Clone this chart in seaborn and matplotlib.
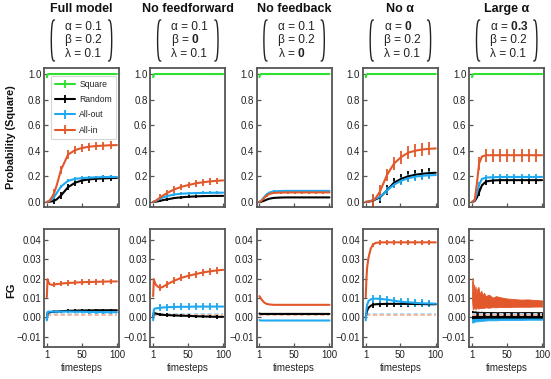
import numpy as np
import matplotlib
matplotlib.use('Agg')
import matplotlib.pyplot as plt
from matplotlib.lines import Line2D
import seaborn as sns

sns.set_theme(style='ticks')
plt.rcParams['font.family'] = ['Liberation Sans', 'DejaVu Sans']
plt.rcParams['mathtext.fontset'] = 'custom'
plt.rcParams['mathtext.rm'] = 'Liberation Sans'
plt.rcParams['mathtext.bf'] = 'Liberation Sans:bold'

# --- data ---
timesteps = [1, 2, 3, 5, 8, 11, 15, 21, 31, 41, 51, 61, 71, 81, 91, 100]
bar_steps = [11, 21, 31, 41, 51, 61, 71, 81, 91]
series_names = ['Square', 'Random', 'All-out', 'All-in']
panel_titles = ['Full model', 'No feedforward', 'No feedback', 'No α', 'Large α']
param_lines = [
    ['α = 0.1', 'β = 0.2', 'λ = 0.1'],
    ['α = 0.1', r'β = $\mathbf{0}$', 'λ = 0.1'],
    ['α = 0.1', 'β = 0.2', r'λ = $\mathbf{0}$'],
    [r'α = $\mathbf{0}$', 'β = 0.2', 'λ = 0.1'],
    [r'α = $\mathbf{0.3}$', 'β = 0.2', 'λ = 0.1'],
]

square_prob = [0.975, 0.995, 1, 1, 1, 1, 1, 1, 1, 1, 1, 1, 1, 1, 1, 1]

prob_full = {
    'Random': [0, 0, 0, 0.002, 0.004, 0.008, 0.02, 0.05, 0.115, 0.15, 0.168, 0.176, 0.181, 0.184, 0.186, 0.187],
    'All-out': [0, 0, 0.002, 0.008, 0.02, 0.035, 0.07, 0.12, 0.165, 0.18, 0.186, 0.19, 0.192, 0.194, 0.195, 0.195],
    'All-in': [0, 0, 0.003, 0.012, 0.035, 0.065, 0.13, 0.25, 0.37, 0.405, 0.422, 0.432, 0.437, 0.44, 0.443, 0.444],
}
prob_noff = {
    'Random': [0, 0, 0, 0.002, 0.005, 0.009, 0.014, 0.02, 0.03, 0.036, 0.04, 0.043, 0.045, 0.046, 0.047, 0.047],
    'All-out': [0, 0.001, 0.003, 0.008, 0.016, 0.025, 0.035, 0.046, 0.058, 0.064, 0.067, 0.069, 0.07, 0.071, 0.072, 0.072],
    'All-in': [0, 0.001, 0.004, 0.01, 0.022, 0.035, 0.05, 0.07, 0.098, 0.118, 0.132, 0.145, 0.153, 0.16, 0.165, 0.168],
}
prob_nofb = {
    'Random': [0, 0, 0.001, 0.004, 0.01, 0.017, 0.025, 0.031, 0.034, 0.035, 0.035, 0.035, 0.035, 0.035, 0.035, 0.035],
    'All-out': [0, 0.003, 0.008, 0.02, 0.04, 0.058, 0.073, 0.082, 0.085, 0.086, 0.086, 0.086, 0.086, 0.086, 0.086, 0.086],
    'All-in': [0, 0.002, 0.006, 0.015, 0.032, 0.048, 0.062, 0.07, 0.073, 0.074, 0.074, 0.074, 0.074, 0.074, 0.074, 0.074],
}
prob_noalpha = {
    'Random': [0, 0, 0, 0.002, 0.005, 0.01, 0.02, 0.035, 0.09, 0.15, 0.18, 0.2, 0.212, 0.22, 0.225, 0.228],
    'All-out': [0, 0, 0.001, 0.003, 0.008, 0.014, 0.025, 0.04, 0.09, 0.135, 0.165, 0.185, 0.197, 0.204, 0.208, 0.21],
    'All-in': [0, 0, 0.001, 0.003, 0.007, 0.012, 0.03, 0.08, 0.21, 0.3, 0.35, 0.385, 0.4, 0.41, 0.415, 0.418],
}
prob_largealpha = {
    'Random': [0, 0.001, 0.003, 0.008, 0.035, 0.075, 0.13, 0.16, 0.168, 0.17, 0.17, 0.17, 0.17, 0.17, 0.17, 0.17],
    'All-out': [0, 0.002, 0.005, 0.015, 0.07, 0.135, 0.18, 0.19, 0.193, 0.195, 0.195, 0.195, 0.195, 0.195, 0.195, 0.195],
    'All-in': [0, 0.003, 0.008, 0.02, 0.15, 0.3, 0.355, 0.365, 0.365, 0.365, 0.365, 0.365, 0.365, 0.365, 0.365, 0.365],
}
prob_err = [
    {'Random': 0.025, 'All-out': 0.013, 'All-in': 0.032},
    {'Random': 0.01, 'All-out': 0.012, 'All-in': 0.025},
    {'Random': 0.006, 'All-out': 0.008, 'All-in': 0.012},
    {'Random': 0.04, 'All-out': 0.03, 'All-in': 0.05},
    {'Random': 0.03, 'All-out': 0.022, 'All-in': 0.05},
]

fg_full = {
    'Random': [-0.001, 0.0022, 0.0025, 0.0027, 0.0028, 0.003, 0.003, 0.0032, 0.0034, 0.0035, 0.0036, 0.0036, 0.0037, 0.0037, 0.0037, 0.0037],
    'All-out': [-0.0015, 0.0028, 0.003, 0.003, 0.003, 0.003, 0.003, 0.003, 0.003, 0.0029, 0.0029, 0.0028, 0.0028, 0.0027, 0.0027, 0.0027],
    'All-in': [0.0105, 0.0197, 0.0185, 0.0172, 0.0168, 0.017, 0.0172, 0.0175, 0.0178, 0.018, 0.0182, 0.0183, 0.0184, 0.0185, 0.0186, 0.0186],
}
fg_noff = {
    'Random': [0.0, 0.0025, 0.0022, 0.002, 0.0017, 0.0015, 0.0013, 0.0012, 0.001, 0.0009, 0.0008, 0.0006, 0.0005, 0.0004, 0.0003, 0.0003],
    'All-out': [-0.0015, 0.004, 0.0045, 0.0047, 0.0048, 0.005, 0.0051, 0.0053, 0.0054, 0.0055, 0.0055, 0.0056, 0.0056, 0.0056, 0.0056, 0.0056],
    'All-in': [0.011, 0.0198, 0.0185, 0.0168, 0.0158, 0.0153, 0.0158, 0.0172, 0.019, 0.0205, 0.0215, 0.0224, 0.0232, 0.0238, 0.0243, 0.0246],
}
fg_nofb = {
    'Random': [0.002, 0.0019, 0.0018, 0.0018, 0.0018, 0.0018, 0.0018, 0.0018, 0.0018, 0.0018, 0.0018, 0.0018, 0.0018, 0.0018, 0.0018, 0.0018],
    'All-out': [-0.0014, -0.0015, -0.0016, -0.0016, -0.0016, -0.0016, -0.0016, -0.0016, -0.0016, -0.0016, -0.0016, -0.0016, -0.0016, -0.0016, -0.0016, -0.0016],
    'All-in': [0.011, 0.0105, 0.0098, 0.0088, 0.0076, 0.007, 0.0067, 0.0065, 0.0065, 0.0065, 0.0065, 0.0065, 0.0065, 0.0065, 0.0065, 0.0065],
}
fg_noalpha = {
    'Random': [0.0, 0.002, 0.0035, 0.005, 0.006, 0.0065, 0.0068, 0.0069, 0.007, 0.007, 0.007, 0.007, 0.0069, 0.0069, 0.0068, 0.0068],
    'All-out': [-0.0015, 0.004, 0.0065, 0.0085, 0.0093, 0.0096, 0.0097, 0.0096, 0.0092, 0.0086, 0.0081, 0.0078, 0.0075, 0.0073, 0.0072, 0.0071],
    'All-in': [0.0105, 0.02, 0.026, 0.031, 0.0355, 0.0375, 0.0385, 0.0388, 0.0388, 0.0388, 0.0388, 0.0388, 0.0388, 0.0388, 0.0388, 0.0388],
}
fg_err = [
    {'Random': 0.0007, 'All-out': 0.0008, 'All-in': 0.0015},
    {'Random': 0.0009, 'All-out': 0.0018, 'All-in': 0.0018},
    {'Random': 0.0002, 'All-out': 0.0002, 'All-in': 0.0002},
    {'Random': 0.0015, 'All-out': 0.002, 'All-in': 0.0012},
]

# Large alpha FG is noisy: drawn as low/high envelopes
band_steps = [1, 2, 3, 4, 5, 6, 7, 8, 10, 12, 14, 16, 18, 20, 25, 30, 35, 40, 50, 60, 70, 80, 90, 100]
band_allin_hi = [0.018, 0.0205, 0.013, 0.017, 0.012, 0.016, 0.0115, 0.0145, 0.0158, 0.012, 0.0138, 0.0115, 0.0128, 0.011, 0.0118, 0.0102, 0.011, 0.0105, 0.0098, 0.0095, 0.0092, 0.0093, 0.009, 0.0088]
band_allin_lo = [0.009, 0.004, 0.006, 0.0045, 0.006, 0.004, 0.0055, 0.005, 0.0045, 0.005, 0.0048, 0.005, 0.0049, 0.0052, 0.005, 0.0053, 0.0052, 0.0054, 0.0053, 0.0055, 0.0055, 0.0055, 0.0056, 0.0056]
band_random_hi = [0.0035, 0.003, 0.0033, 0.0029, 0.0032, 0.003, 0.0031, 0.0029, 0.003, 0.0028, 0.003, 0.0028, 0.0029, 0.0028, 0.0028, 0.0028, 0.0027, 0.0027, 0.0028, 0.0027, 0.0027, 0.0028, 0.0027, 0.0027]
band_random_lo = [-0.0005, -0.0003, -0.0004, -0.0002, -0.0003, -0.0002, -0.0003, -0.0002, -0.0002, -0.0002, -0.0002, -0.0001, -0.0002, -0.0001, -0.0001, -0.0001, -0.0001, -0.0001, -0.0001, -0.0001, -0.0001, -0.0001, -0.0001, -0.0001]
band_allout_hi = [0.003, 0.0025, 0.0022, 0.0021, 0.002, 0.0019, 0.0018, 0.0018, 0.0016, 0.0015, 0.0015, 0.0014, 0.0014, 0.0013, 0.0012, 0.0012, 0.0012, 0.0011, 0.0011, 0.001, 0.001, 0.001, 0.001, 0.001]
band_allout_lo = [-0.0025, -0.0028, -0.0024, -0.0023, -0.0022, -0.0021, -0.002, -0.002, -0.002, -0.0019, -0.0018, -0.0017, -0.0017, -0.0016, -0.0015, -0.0015, -0.0015, -0.0014, -0.0013, -0.0013, -0.0013, -0.0012, -0.0012, -0.0012]

# dashed reference levels in the FG panels
ref_allout = 0.002
ref_allin = 0.001

colors = {'Square': '#2fe02f', 'Random': '#000000', 'All-out': '#1fa8f0', 'All-in': '#e2582a'}
ref_colors = {'All-out': '#a9d9f3', 'All-in': '#f4b9a3'}

prob_panels = [prob_full, prob_noff, prob_nofb, prob_noalpha, prob_largealpha]
fg_panels = [fg_full, fg_noff, fg_nofb, fg_noalpha]

W, H = 551, 379
fig = plt.figure(figsize=(W / 100, H / 100), dpi=100)
fig.patch.set_facecolor('white')

col_left = [44 + 106.3 * i for i in range(5)]
ax_w = 75
mask = [t in bar_steps for t in timesteps]


def style_axis(ax):
    for sp in ax.spines.values():
        sp.set_visible(True)
        sp.set_color('#555555')
        sp.set_linewidth(1.3)
    ax.tick_params(direction='in', length=3, width=0.9, color='#555555',
                   labelsize=7, labelcolor='#222222', pad=2)
    ax.set_xlim(-3, 103)
    ax.set_xticks([1, 50, 100])
    ax.set_facecolor('white')
    ax.grid(False)


def draw_paren(x_px, y_top, y_bot, side):
    theta = np.linspace(-np.pi / 2, np.pi / 2, 40)
    yc = (y_top + y_bot) / 2
    h = (y_bot - y_top) / 2
    bulge = 3.2 * side
    xs = x_px - bulge * np.cos(theta) ** 0.6
    ys = yc + h * np.sin(theta)
    fig.add_artist(Line2D(xs / W, 1 - ys / H, transform=fig.transFigure,
                          color='#222222', lw=1.0))


for i in range(5):
    left = col_left[i]
    xc = left + ax_w / 2
    # titles and parameter boxes
    fig.text(xc / W, 1 - 9 / H, panel_titles[i], ha='center', va='center',
             fontsize=9, fontweight='bold', color='#111111')
    for j, line in enumerate(param_lines[i]):
        fig.text((xc - 16.5) / W, 1 - (27 + 13.3 * j) / H, line, ha='left', va='center',
                 fontsize=8.6, color='#222222')
    draw_paren(xc - 27, 20, 61, 1)
    draw_paren(xc + 27, 20, 61, -1)

    # top row: probability of square
    ax = fig.add_axes([left / W, 1 - 207 / H, ax_w / W, 139 / H])
    style_axis(ax)
    ax.errorbar(timesteps, square_prob, yerr=0, errorevery=mask, color=colors['Square'],
                lw=1.5, elinewidth=1.3, label='Square')
    data = prob_panels[i]
    for name in series_names[1:]:
        ax.errorbar(timesteps, data[name], yerr=prob_err[i][name], errorevery=mask,
                    color=colors[name], lw=1.5, elinewidth=1.3, label=name)
    ax.set_ylim(-0.04, 1.047)
    ax.set_yticks([0, 0.2, 0.4, 0.6, 0.8, 1.0])
    ax.set_yticklabels(['0.0', '0.2', '0.4', '0.6', '0.8', '1.0'])
    ax.set_xticklabels([])
    if i == 0:
        leg = ax.legend(loc='upper left', bbox_to_anchor=(0.09, 0.945), fontsize=6.2,
                        handlelength=2.3, handletextpad=0.5, borderpad=0.5,
                        labelspacing=0.72, frameon=True, borderaxespad=0)
        leg.get_frame().set_edgecolor('#cccccc')
        leg.get_frame().set_linewidth(0.8)

    # bottom row: FG
    ax2 = fig.add_axes([left / W, 1 - 347 / H, ax_w / W, 118 / H])
    style_axis(ax2)
    for name, lvl in [('All-out', ref_allout), ('All-in', ref_allin)]:
        sns.lineplot(x=[1, 100], y=[lvl, lvl], ax=ax2, color=ref_colors[name],
                     lw=1.4, linestyle=(0, (2.2, 1.3)))
    if i < 4:
        data = fg_panels[i]
        for name in series_names[1:]:
            ax2.errorbar(timesteps, data[name], yerr=fg_err[i][name], errorevery=mask,
                         color=colors[name], lw=1.5, elinewidth=1.3)
    else:
        for name, lo, hi in [('All-out', band_allout_lo, band_allout_hi),
                             ('Random', band_random_lo, band_random_hi),
                             ('All-in', band_allin_lo, band_allin_hi)]:
            ax2.fill_between(band_steps, lo, hi, color=colors[name], lw=0.6,
                             edgecolor=colors[name])
    ax2.set_ylim(-0.0153, 0.0457)
    ax2.set_yticks([-0.01, 0.0, 0.01, 0.02, 0.03, 0.04])
    ax2.set_yticklabels(['\u22120.01', '0.00', '0.01', '0.02', '0.03', '0.04'])
    ax2.set_xticklabels(['1', '50', '100'])
    ax2.set_xlabel('timesteps', fontsize=7, color='#222222', labelpad=2.5)
    ax2.set_ylabel('')

fig.text(11 / W, 1 - 137.5 / H, 'Probability (Square)', rotation=90, ha='center',
         va='center', fontsize=7.8, fontweight='bold', color='#111111')
fig.text(11 / W, 1 - 290 / H, 'FG', rotation=90, ha='center', va='center',
         fontsize=8, fontweight='bold', color='#111111')

fig.savefig('out.png', dpi=100, facecolor='white')
